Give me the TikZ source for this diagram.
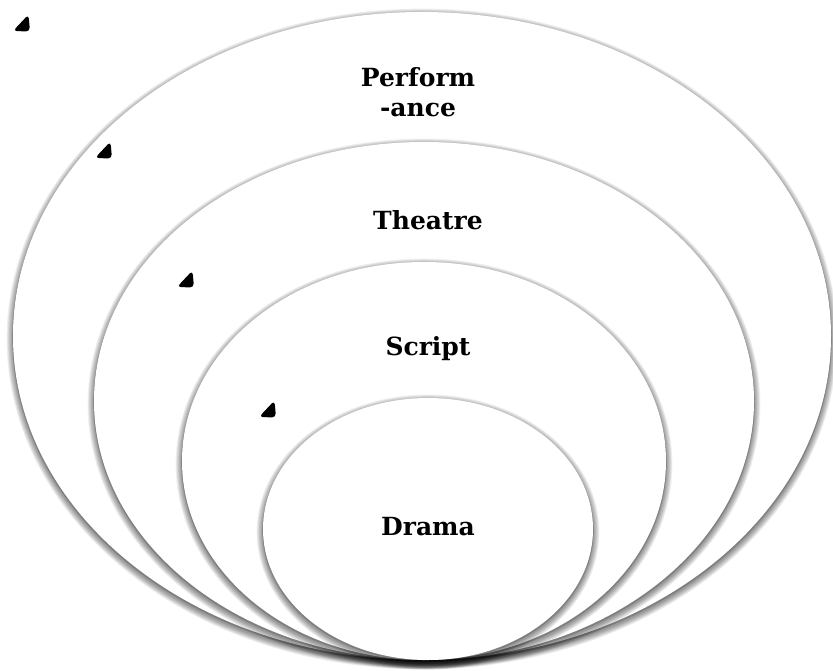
\documentclass[tikz,border=0pt]{standalone}
\usepackage{fontspec}
\setmainfont{DejaVu Serif}
\begin{document}
\begin{tikzpicture}[x=1pt,y=-1pt,
  lbl/.style={font=\fontsize{25}{30}\selectfont\bfseries, align=center, inner sep=0pt},
  blob/.style={fill=black, rounded corners=4pt}]
\useasboundingbox (0,0) rectangle (833,670);
\fill[white] (0,0) rectangle (833,670);
\newcommand\ringdraw[4]{%
  \foreach \k in {1,...,8}{
    \fill[black, opacity=0.06] (#1,#2+3) ellipse [x radius=#3+\k*0.8, y radius=#4+\k*0.8];
  }
  \fill[black, opacity=0.18] (#1,#2+1.5) ellipse [x radius=#3+0.6, y radius=#4+0.6];
  \fill[white] (#1,#2) ellipse [x radius=#3, y radius=#4];
}
\ringdraw{422}{336}{409}{324}
\ringdraw{424}{401}{330}{259}
\ringdraw{424}{461}{242}{199}
\ringdraw{428}{529}{165}{131}
\node[lbl] (perf) at (418,92) {Perform\\-ance};
\node[lbl] (theatre) at (428,220) {Theatre};
\node[lbl] (script) at (428,349) {Script};
\node[lbl] (drama) at (428,527) {Drama};
\foreach \bx/\by in {22/24, 104/151, 186/280, 268/410}{
  \fill[blob] (\bx-9,\by+7) -- (\bx+8,\by+7.5) -- (\bx+6.5,\by-9.5) -- cycle;
}
\end{tikzpicture}
\end{document}
